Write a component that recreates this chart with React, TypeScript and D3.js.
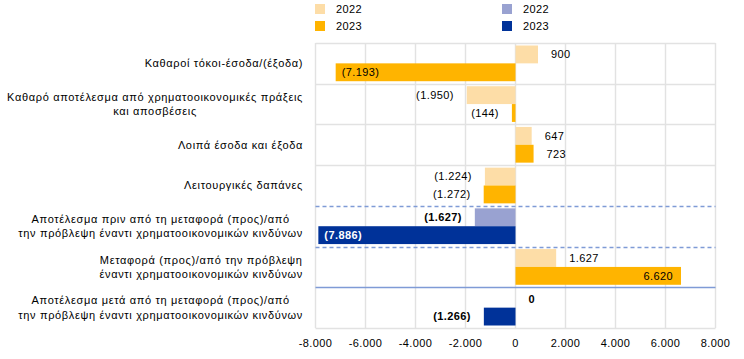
import React from "react";
import * as d3 from "d3";

const categories: string[][] = [
  ["Καθαροί τόκοι-έσοδα/(έξοδα)"],
  ["Καθαρό αποτέλεσμα από χρηματοοικονομικές πράξεις", "και αποσβέσεις"],
  ["Λοιπά έσοδα και έξοδα"],
  ["Λειτουργικές δαπάνες"],
  ["Αποτέλεσμα πριν από τη μεταφορά (προς)/από", "την πρόβλεψη έναντι χρηματοοικονομικών κινδύνων"],
  ["Μεταφορά (προς)/από την πρόβλεψη", "έναντι χρηματοοικονομικών κινδύνων"],
  ["Αποτέλεσμα μετά από τη μεταφορά (προς)/από", "την πρόβλεψη έναντι χρηματοοικονομικών κινδύνων"],
];
const categoryGroup = ["orange", "orange", "orange", "orange", "blue", "orange", "blue"];
const series = ["2022", "2023"];
const values2022 = [900, -1950, 647, -1224, -1627, 1627, 0];
const values2023 = [-7193, -144, 723, -1272, -7886, 6620, -1266];
const xTicks = [-8000, -6000, -4000, -2000, 0, 2000, 4000, 6000, 8000];

const palette: Record<string, string[]> = {
  orange: ["#FDDDA7", "#FFB400"],
  blue: ["#99A2D1", "#003299"],
};

const W = 744, H = 359;
const FONT = "Liberation Sans, Arial, sans-serif";
const FS = 11;
const LS_CAT = 0.65;
const LS_NUM = 0.4;

const locale = d3.formatLocale({ decimal: ",", thousands: ".", grouping: [3], currency: ["", ""], minus: "-" });
const fmtInt = locale.format(",.0f");
const fmtVal = (v: number) => (v < 0 ? `(${fmtInt(-v)})` : fmtInt(v));

let ctx: CanvasRenderingContext2D | null = null;
function measure(text: string, bold = false, ls = 0): number {
  if (!ctx) ctx = document.createElement("canvas").getContext("2d");
  if (!ctx) return text.length * (6 + ls);
  ctx.font = `${bold ? "bold " : ""}${FS}px ${FONT}`;
  return ctx.measureText(text).width + ls * text.length;
}

export default function App() {
  const x = d3.scaleLinear().domain([-8000, 8000]).range([315.5, 715.5]);
  const y = d3.scaleBand<number>().domain(categories.map((_, i) => i)).range([43, 328]).padding(0);
  const sub = d3.scaleBand<string>().domain(series).range([0, y.bandwidth()]).paddingInner(0).paddingOuter(0.14);
  const data = [values2022, values2023];
  const labelRight = 303;
  const gap = 13;

  const boundaries = d3.range(categories.length + 1).map((i) => (i < categories.length ? (y(i) as number) : 328));

  return (
    <svg width={W} height={H} style={{ position: "absolute", left: 0, top: 0, background: "#fff" }} fontFamily={FONT} fontSize={FS}>
      {/* legend */}
      {[["orange", 315], ["blue", 502]].map(([g, lx]) =>
        series.map((s, si) => (
          <g key={`${g}-${s}`}>
            <rect x={lx as number} y={4 + si * 17} width={10} height={10} fill={palette[g as string][si]} />
            <text x={(lx as number) + 21} y={9 + si * 17} dy="0.35em" fill="#000" letterSpacing={LS_NUM}>{s}</text>
          </g>
        ))
      )}
      {/* vertical grid */}
      {xTicks.map((t) => (
        <line key={t} x1={x(t)} x2={x(t)} y1={43} y2={328} stroke="#e2e2e2" strokeWidth={1.4} />
      ))}
      {/* horizontal separators */}
      {boundaries.map((by, i) => {
        let stroke = "#e2e2e2", dash: string | undefined = undefined;
        if (i === 4 || i === 5) { stroke = "#7f9bd6"; dash = "4,3"; }
        if (i === 6) { stroke = "#7f9bd6"; }
        return <line key={i} x1={315.5} x2={715.5} y1={Math.round(by) + 0.5} y2={Math.round(by) + 0.5} stroke={stroke} strokeWidth={i === 4 || i === 5 || i === 6 ? 1.3 : 1.4} strokeDasharray={dash} />;
      })}
      {/* bars */}
      {categories.map((_, ci) =>
        series.map((s, si) => {
          const v = data[si][ci];
          const g = categoryGroup[ci];
          const color = palette[g][si];
          const by = (y(ci) as number) + (sub(s) as number);
          const bh = sub.bandwidth();
          const x0 = x(Math.min(0, v));
          const x1 = x(Math.max(0, v));
          const bold = g === "blue";
          const label = fmtVal(v);
          const lw = measure(label, bold, LS_NUM);
          const cy = by + bh / 2;
          let tx: number, anchor: string, fill = "#000";
          if (v >= 0) {
            const outside = x1 + gap + lw <= 715.5;
            if (outside) { tx = x1 + gap; anchor = "start"; }
            else { tx = x1 - 8; anchor = "end"; }
          } else {
            const outside = x0 - gap - lw >= 315.5;
            if (outside) { tx = x0 - gap; anchor = "end"; }
            else { tx = x0 + 6; anchor = "start"; if (g === "blue" && si === 1) fill = "#fff"; }
          }
          return (
            <g key={`${ci}-${s}`}>
              {v !== 0 && <rect x={x0} y={by} width={Math.max(0.5, x1 - x0)} height={bh} fill={color} />}
              <text x={tx} y={cy} dy="0.35em" textAnchor={anchor} fill={fill} fontWeight={bold ? "bold" : "normal"} letterSpacing={LS_NUM}>{label}</text>
            </g>
          );
        })
      )}
      {/* category labels */}
      {categories.map((lines, ci) => {
        const cy = (y(ci) as number) + y.bandwidth() / 2;
        const maxW = Math.max(...lines.map((l) => measure(l, false, LS_CAT)));
        const lh = 14.5;
        return (
          <g key={ci}>
            {lines.map((l, li) => (
              <text key={li} x={lines.length > 1 ? labelRight - maxW / 2 : labelRight} y={cy + (li - (lines.length - 1) / 2) * lh} dy="0.35em" textAnchor={lines.length > 1 ? "middle" : "end"} fill="#000" letterSpacing={LS_CAT}>{l}</text>
            ))}
          </g>
        );
      })}
      {/* x tick labels */}
      {xTicks.map((t) => (
        <text key={t} x={x(t)} y={343} dy="0.35em" textAnchor="middle" fill="#000" letterSpacing={LS_NUM}>{fmtInt(t)}</text>
      ))}
    </svg>
  );
}
